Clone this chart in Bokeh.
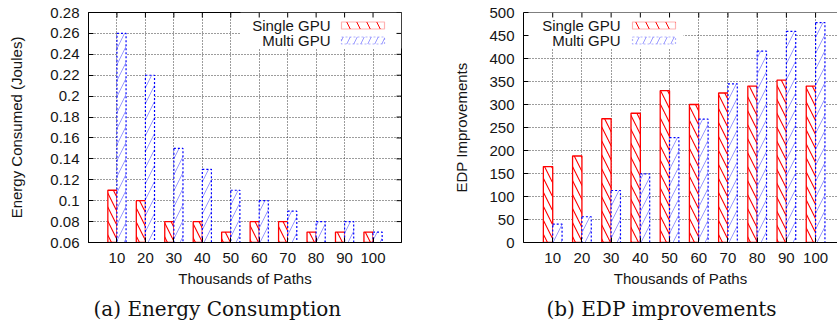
from bokeh.plotting import figure
from bokeh.layouts import row
from bokeh.models import (ColumnDataSource, FixedTicker, BoxAnnotation,
                          Label, Range1d, Span)
from bokeh.transform import dodge
from bokeh.embed import file_html
from bokeh.resources import INLINE

# ---------------- data ----------------
paths = [10, 20, 30, 40, 50, 60, 70, 80, 90, 100]
series_names = ["Single GPU", "Multi GPU"]

energy_single = [0.11, 0.10, 0.08, 0.08, 0.07, 0.08, 0.08, 0.07, 0.07, 0.07]
energy_multi = [0.26, 0.22, 0.15, 0.13, 0.11, 0.10, 0.09, 0.08, 0.08, 0.07]

edp_single = [165, 188, 269, 281, 330, 300, 325, 340, 353, 340]
edp_multi = [40, 56, 113, 149, 228, 268, 345, 416, 459, 478]

energy_ticks = [0.06, 0.08, 0.10, 0.12, 0.14, 0.16, 0.18, 0.20, 0.22, 0.24, 0.26, 0.28]
energy_tick_labels = ["0.06", "0.08", "0.1", "0.12", "0.14", "0.16", "0.18", "0.2",
                      "0.22", "0.24", "0.26", "0.28"]
edp_ticks = [0, 50, 100, 150, 200, 250, 300, 350, 400, 450, 500]
edp_tick_labels = ["0", "50", "100", "150", "200", "250", "300", "350", "400", "450", "500"]

x_label = "Thousands of Paths"
y_labels = ["Energy Consumed (Joules)", "EDP Improvements"]
captions = ["(a) Energy Consumption", "(b) EDP improvements"]

# ---------------- style ----------------
SANS = "Liberation Sans"
SERIF = "DejaVu Serif"
FS = "15px"
TXT = "#151515"
BAR_W = 3.2
TOP = 12
FRAME_H = 230
HEIGHT = 326
TICK = 5


def style_axis(ax):
    ax.axis_line_color = "black"
    ax.axis_line_width = 1
    ax.major_tick_in = TICK
    ax.major_tick_out = 0
    ax.minor_tick_in = 0
    ax.minor_tick_out = 0
    ax.major_tick_line_color = "black"
    ax.major_tick_line_width = 1
    ax.major_label_text_font = SANS
    ax.major_label_text_font_size = FS
    ax.major_label_text_color = TXT
    ax.axis_label_text_font = SANS
    ax.axis_label_text_font_size = FS
    ax.axis_label_text_font_style = "normal"
    ax.axis_label_text_color = TXT


def make_panel(single, multi, y0, y1, yticks, ylabels, ylab, caption,
               width, bl, br, x1, legend_box, text_right, swatch, cap_offset,
               full_box, ylab_standoff):
    frame_w = width - bl - br
    p = figure(width=width, height=HEIGHT,
               x_range=Range1d(0, x1), y_range=Range1d(y0, y1),
               output_backend="svg", toolbar_location=None,
               min_border_left=bl, min_border_right=br, min_border_top=TOP,
               min_border_bottom=HEIGHT - TOP - FRAME_H,
               title=caption, title_location="below")
    p.background_fill_color = "white"
    p.border_fill_color = "white"

    def fx(px):
        return px / frame_w * x1

    def fy(py):
        return y1 - py / FRAME_H * (y1 - y0)

    dx = x1 / frame_w
    dy = (y1 - y0) / FRAME_H

    xt = FixedTicker(ticks=paths)
    yt = FixedTicker(ticks=yticks)
    overrides = {t: s for t, s in zip(yticks, ylabels)}

    p.xaxis.ticker = xt
    p.yaxis.ticker = yt
    p.yaxis.major_label_overrides = overrides
    style_axis(p.xaxis[0])
    style_axis(p.yaxis[0])
    p.xaxis.axis_label = x_label
    p.yaxis.axis_label = ylab
    p.xaxis.major_label_standoff = 10
    p.xaxis.axis_label_standoff = 4
    p.yaxis.major_label_standoff = 9
    p.yaxis.axis_label_standoff = ylab_standoff

    if full_box:
        p.outline_line_color = "black"
        p.outline_line_width = 1
    else:
        p.outline_line_color = None
        p.add_layout(Span(location=y1, dimension="width", line_color="black",
                          line_width=1))

    for g in (p.xgrid[0], p.ygrid[0]):
        g.grid_line_color = "#3a3a3a"
        g.grid_line_dash = "1 2"
        g.grid_line_width = 1
    p.xgrid.ticker = xt
    p.ygrid.ticker = yt

    # legend area blanks the grid
    lb = BoxAnnotation(left=fx(legend_box[0]), right=fx(legend_box[1]),
                       top=fy(legend_box[2]), bottom=fy(legend_box[3]),
                       fill_color="white", fill_alpha=1, line_color=None,
                       level="underlay")
    p.add_layout(lb)

    src = ColumnDataSource(dict(x=paths, single=single, multi=multi))
    p.vbar(x=dodge("x", -BAR_W / 2), top="single", bottom=0, width=BAR_W, source=src,
           fill_color="white", line_color="#ff0000", line_width=1.3,
           hatch_pattern="\\", hatch_color="#ff0000", hatch_scale=14, hatch_weight=1.1)
    p.vbar(x=dodge("x", BAR_W / 2), top="multi", bottom=0, width=BAR_W, source=src,
           fill_color="white", line_color="#0000ff", line_width=1.2, line_dash="2 2",
           hatch_pattern="/", hatch_color="#3333ff", hatch_alpha=0.5, hatch_scale=16,
           hatch_weight=1)

    # mirror tick marks (top, and right when the right border is visible)
    p.segment(x0=paths, x1=paths, y0=[y1] * len(paths), y1=[y1 - TICK * dy] * len(paths),
              line_color="black", line_width=1)
    if full_box:
        p.segment(x0=[x1] * len(yticks), x1=[x1 - TICK * dx] * len(yticks),
                  y0=yticks, y1=yticks, line_color="black", line_width=1)

    # legend (text right-aligned, swatch to the right)
    styles = [dict(line_color="#ff0000", line_dash="solid", hatch_pattern="\\",
                   hatch_color="#ff0000", hatch_alpha=1.0, hatch_scale=20),
              dict(line_color="#0000ff", line_dash="2 2", hatch_pattern="/",
                   hatch_color="#3333ff", hatch_alpha=0.5, hatch_scale=14)]
    rows_y = [13, 28]
    for name, ry, st in zip(series_names, rows_y, styles):
        p.add_layout(Label(x=fx(text_right), y=fy(ry), text=name, text_align="right",
                           text_baseline="middle", text_font=SANS, text_font_size=FS,
                           text_color=TXT))
        p.add_layout(BoxAnnotation(left=fx(swatch[0]), right=fx(swatch[1]),
                                   top=fy(ry - 3.5), bottom=fy(ry + 3.5),
                                   fill_color="white", fill_alpha=1,
                                   line_color=st["line_color"], line_width=1.2,
                                   line_dash=st["line_dash"],
                                   hatch_pattern=st["hatch_pattern"],
                                   hatch_color=st["hatch_color"],
                                   hatch_alpha=st["hatch_alpha"],
                                   hatch_scale=st["hatch_scale"], hatch_weight=1))

    p.title.text_font = SERIF
    p.title.text_font_size = "20px"
    p.title.text_font_style = "normal"
    p.title.text_color = "#111111"
    p.title.align = "left"
    p.title.offset = cap_offset
    p.title.standoff = 10
    return p


p1 = make_panel(energy_single, energy_multi, 0.06, 0.28, energy_ticks, energy_tick_labels,
                y_labels[0], captions[0], width=429, bl=88, br=28, x1=110,
                legend_box=(152, 313, 0, 36), text_right=242, swatch=(253, 296),
                cap_offset=5, full_box=True, ylab_standoff=22)
p2 = make_panel(edp_single, edp_multi, 0, 500, edp_ticks, edp_tick_labels,
                y_labels[1], captions[1], width=408, bl=94, br=0, x1=107.5,
                legend_box=(0, 160, 0, 36), text_right=97, swatch=(109, 152),
                cap_offset=23, full_box=False, ylab_standoff=16)

layout = row(p1, p2, spacing=0)
open("out.html", "w").write(file_html(layout, INLINE))
